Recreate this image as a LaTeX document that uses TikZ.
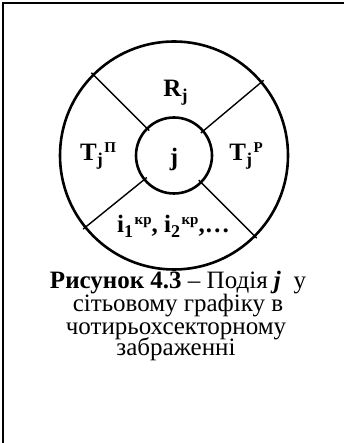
\documentclass[tikz,border=0pt]{standalone}
\usepackage{fontspec}
\setmainfont{Liberation Serif}
\usetikzlibrary{calc}

% lowered and raised indices in text
\newcommand{\lo}[1]{\raisebox{-4.5pt}{\fontsize{18}{18}\selectfont #1}}
\newcommand{\hi}[1]{\kern1.5pt\raisebox{8.5pt}{\fontsize{15}{15}\selectfont #1}}

\begin{document}
\begin{tikzpicture}[
    x=1pt, y=1pt,
    ring/.style={draw=black, line width=2.6pt, circle, inner sep=0pt},
    sector/.style={draw=black, line width=1.4pt},
    lbl/.style={font=\fontsize{25}{25}\selectfont\bfseries, inner sep=0pt},
    caption/.style={font=\fontsize{25}{25}\selectfont, inner sep=0pt, anchor=base},
]
\useasboundingbox (0,0) rectangle (344,443);

% Frame (top and left edges)
\draw[line width=2pt] (3,0) -- (3,440) -- (344,440);

% Event circle
\coordinate (c) at (174,287.5);
\node[ring, minimum size=228pt] (outer) at (c) {};
\node[ring, minimum size=76pt] (inner) at (c) {};

% Sector borders
\foreach \a in {135, 40, 219, -45}
    \draw[sector] ($(c)+(\a:35)$) -- ($(c)+(\a:117)$);

% Sector labels
\node[lbl, anchor=base] (rj) at (175.5,346.3) {R\lo{j}};
\node[lbl, anchor=base] (tp) at (98,282.3) {T\lo{j}\hi{П}};
\node[lbl, anchor=base] (tr) at (246,282.3) {T\lo{j}\hi{Р}};
\node[lbl] (j) at (174,284) {j};
\node[lbl, anchor=base] (ikr) at (173.5,210) {i\lo{1}\hi{кр}, i\lo{2}\hi{кр},…};

% Caption
\node[caption] (cap1) at (178,154) {\textbf{Рисунок 4.3} – Подія \textbf{\textit{j}}\ \ у};
\node[caption] (cap2) at (178,131) {сітьовому графіку в};
\node[caption] (cap3) at (176,108.5) {чотирьохсекторному};
\node[caption] (cap4) at (176,87) {забраженні};

\end{tikzpicture}
\end{document}
